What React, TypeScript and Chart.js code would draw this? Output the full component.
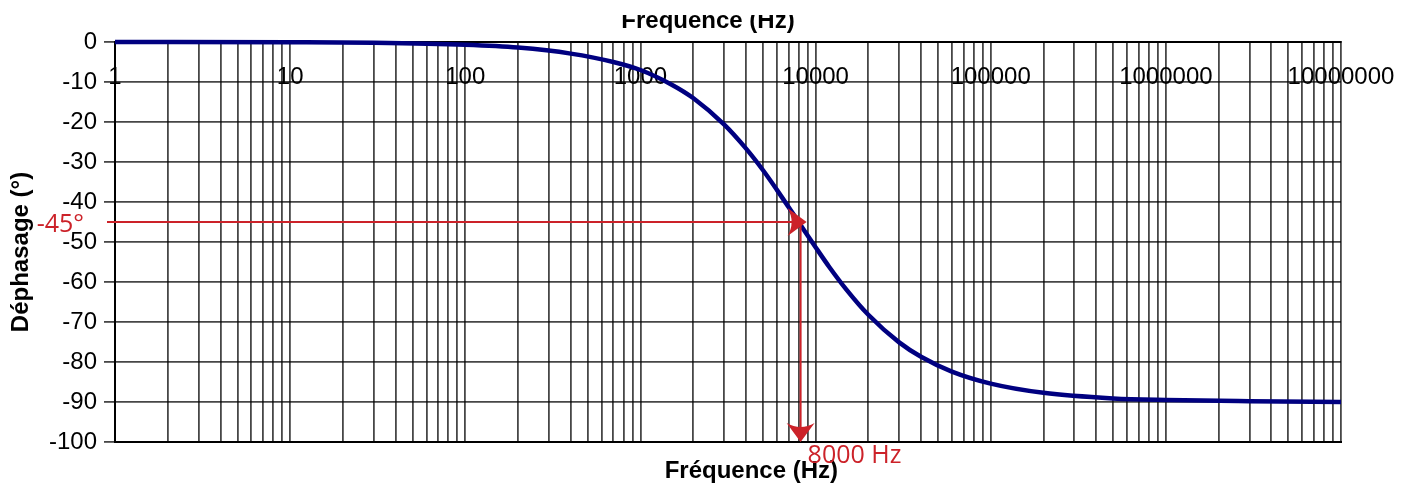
import React, { useEffect, useRef } from 'react';
import { Chart, registerables } from 'chart.js';

Chart.register(...registerables);

// ---- Data ----
const frequencies = [
  1, 10, 30, 100, 200, 400, 700, 1000, 1500, 2000, 3000, 4000, 5000, 6000,
  8000, 10000, 12000, 15000, 20000, 30000, 40000, 60000, 100000, 200000,
  500000, 1000000, 3000000, 10000000,
];
const phases = [
  0, -0.07, -0.2, -0.7, -1.4, -2.9, -5.0, -7.0, -10.6, -14.0, -20.6, -26.6,
  -32.0, -36.9, -45.0, -51.3, -56.3, -61.9, -68.2, -75.1, -78.7, -82.4,
  -85.4, -87.7, -89.1, -89.5, -89.8, -90.0,
];

const xDecades = [1, 10, 100, 1000, 10000, 100000, 1000000, 10000000];
const xTickLabels = ['1', '10', '100', '1000', '10000', '100000', '1000000', '10000000'];
const xSubdivisions = [1, 2, 3, 4, 5, 6, 7, 8, 9];

const yMin = -100;
const yMax = 0;
const yStep = 10;

const cutoffFrequency = 8000;
const cutoffPhase = -45;
const cutoffFrequencyLabel = '8000 Hz';
const cutoffPhaseLabel = '-45°';

const xTitle = 'Fréquence (Hz)';
const yTitle = 'Déphasage (°)';

// ---- Styles ----
const FONT = "'Liberation Sans', Arial, sans-serif";
const RED = '#cc2229';
const NAVY = '#000080';
const GRID = 'rgba(0,0,0,0.72)';

const xGridValues: number[] = [];
xDecades.forEach((d, i) => {
  if (i < xDecades.length - 1) xSubdivisions.forEach((m) => xGridValues.push(d * m));
  else xGridValues.push(d);
});

function drawArrowHead(
  ctx: CanvasRenderingContext2D,
  tipX: number,
  tipY: number,
  dirX: number,
  dirY: number,
  len: number,
  half: number,
  notch: number,
) {
  const px = -dirY;
  const py = dirX;
  const bx = tipX - dirX * len;
  const by = tipY - dirY * len;
  const c1x = bx + px * half;
  const c1y = by + py * half;
  const c2x = bx - px * half;
  const c2y = by - py * half;
  const ctrlX = tipX - dirX * (len - 2 * notch);
  const ctrlY = tipY - dirY * (len - 2 * notch);
  ctx.beginPath();
  ctx.moveTo(tipX, tipY);
  ctx.lineTo(c1x, c1y);
  ctx.quadraticCurveTo(ctrlX, ctrlY, c2x, c2y);
  ctx.closePath();
  ctx.fill();
}

const cutoffPlugin = {
  id: 'cutoffAnnotation',
  afterDatasetsDraw(chart: any) {
    const { ctx, chartArea, scales } = chart;
    const xp = scales.x.getPixelForValue(cutoffFrequency);
    const yp = scales.y.getPixelForValue(cutoffPhase);
    ctx.save();
    ctx.strokeStyle = RED;
    ctx.fillStyle = RED;
    ctx.lineWidth = 2;

    // horizontal arrow
    const hStart = chartArea.left - 8;
    const hTip = xp + 8;
    ctx.beginPath();
    ctx.moveTo(hStart, yp);
    ctx.lineTo(hTip - 10, yp);
    ctx.stroke();
    drawArrowHead(ctx, hTip, yp, 1, 0, 19, 14, 4);

    // vertical arrow
    const vx = xp + 2;
    const vTip = chartArea.bottom;
    ctx.beginPath();
    ctx.moveTo(vx, yp + 2);
    ctx.lineTo(vx, vTip - 10);
    ctx.stroke();
    drawArrowHead(ctx, vx, vTip, 0, 1, 19, 14, 4);

    // labels
    ctx.font = "25px 'Open Sans', 'Noto Sans', sans-serif";
    ctx.textBaseline = 'middle';
    ctx.textAlign = 'right';
    ctx.fillText(cutoffPhaseLabel, chartArea.left - 31, yp + 3);
    ctx.textAlign = 'left';
    ctx.fillText(cutoffFrequencyLabel, xp + 9, chartArea.bottom + 14);
    ctx.restore();
  },
};

const topCropPlugin = {
  id: 'topCrop',
  afterDraw(chart: any) {
    const { ctx, width } = chart;
    ctx.save();
    ctx.fillStyle = '#ffffff';
    ctx.fillRect(0, 0, width, 15);
    ctx.restore();
  },
};

export default function App() {
  const canvasRef = useRef<HTMLCanvasElement | null>(null);

  useEffect(() => {
    if (!canvasRef.current) return;
    const chart = new Chart(canvasRef.current, {
      type: 'line',
      data: {
        datasets: [
          {
            data: frequencies.map((f, i) => ({ x: f, y: phases[i] })),
            xAxisID: 'x',
            yAxisID: 'y',
            borderColor: NAVY,
            borderWidth: 4.5,
            pointRadius: 0,
            fill: false,
            cubicInterpolationMode: 'monotone',
            clip: false,
          } as any,
        ],
      },
      options: {
        animation: false,
        responsive: false,
        events: [],
        layout: { padding: { left: 0, top: 0, right: 70, bottom: 0 } },
        plugins: {
          legend: { display: false },
          tooltip: { enabled: false },
          title: { display: false },
        },
        scales: {
          x: {
            type: 'logarithmic',
            position: 'top',
            min: 1,
            max: 10000000,
            afterBuildTicks: (scale: any) => {
              scale.ticks = xGridValues.map((v) => ({ value: v }));
            },
            afterFit: (scale: any) => {
              scale.height = 42;
              scale.paddingLeft = 0;
              scale.paddingRight = 0;
            },
            grid: { color: GRID, lineWidth: 1.8, drawTicks: false },
            border: { color: '#000', width: 2 },
            ticks: {
              autoSkip: false,
              maxRotation: 0,
              minRotation: 0,
              mirror: true,
              padding: 21,
              color: '#000',
              font: { family: FONT, size: 24 },
              callback: (v: any) => {
                const i = xDecades.indexOf(Number(v));
                return i >= 0 ? xTickLabels[i] : '';
              },
            },
            title: {
              display: true,
              text: xTitle + '      ',
              color: '#000',
              font: { family: FONT, size: 24, weight: 'bold' },
              padding: { top: 7, bottom: 0 },
            },
          },
          x2: {
            type: 'logarithmic',
            position: 'bottom',
            min: 1,
            max: 10000000,
            afterFit: (scale: any) => {
              scale.height = 44;
              scale.paddingLeft = 0;
              scale.paddingRight = 0;
            },
            grid: { display: false, drawTicks: false },
            border: { display: true, color: '#000', width: 2 },
            ticks: { display: false },
            title: {
              display: true,
              text: '       ' + xTitle,
              color: '#000',
              font: { family: FONT, size: 24, weight: 'bold' },
              padding: { top: 0, bottom: 0 },
            },
          },
          y: {
            type: 'linear',
            min: yMin,
            max: yMax,
            afterFit: (scale: any) => {
              scale.width = 115;
            },
            ticks: {
              stepSize: yStep,
              padding: 7,
              color: '#000',
              font: { family: FONT, size: 24 },
            },
            grid: { color: GRID, lineWidth: 1.8, tickLength: 11, tickColor: GRID, tickWidth: 1.8 },
            border: { color: '#000', width: 2 },
            title: {
              display: true,
              text: yTitle + '   ',
              color: '#000',
              font: { family: FONT, size: 24, weight: 'bold' },
              padding: { top: 7, bottom: 0 },
            },
          },
        },
      } as any,
      plugins: [cutoffPlugin, topCropPlugin],
    });
    return () => chart.destroy();
  }, []);

  return (
    <div style={{ position: 'absolute', left: 0, top: 0, width: 1411, height: 486, background: '#fff' }}>
      <canvas ref={canvasRef} width={1411} height={486} style={{ display: 'block' }} />
    </div>
  );
}
